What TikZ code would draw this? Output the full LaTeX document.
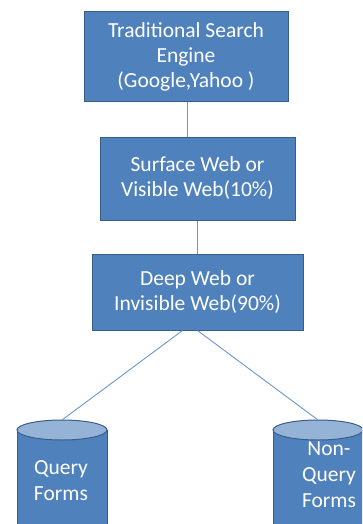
\documentclass[tikz,border=0pt]{standalone}
\usepackage{fontspec}
\setmainfont{Carlito}
\definecolor{boxfill}{HTML}{4F81BD}
\definecolor{boxline}{HTML}{385D8A}
\definecolor{capfill}{HTML}{95B3D7}
\definecolor{linkline}{HTML}{6A96CC}
\begin{document}
\begin{tikzpicture}[x=1pt,y=-1pt,
  box/.style={draw=boxline,fill=boxfill,line width=1pt,text=white,
    align=center,font=\fontsize{21.5}{25}\selectfont,inner sep=0pt},
  label/.style={text=white,align=center,font=\fontsize{21.5}{26}\selectfont,inner sep=0pt},
  link/.style={draw=linkline,line width=0.9pt}]
\useasboundingbox (0,0) rectangle (362,524);
\clip (0,0) rectangle (362,524);

% rectangular boxes
\node[box,minimum width=204pt,minimum height=90pt] (engine) at (186,57)
  {Traditional Search\\Engine\\(Google,Yahoo )};
\node[box,minimum width=195pt,minimum height=83pt] (surface) at (197.5,178.5)
  {Surface Web or\\Visible Web(10\%)};
\node[box,minimum width=211pt,minimum height=76pt] (deep) at (197.5,292)
  {Deep Web or\\Invisible Web(90\%)};

% cylinders (their lower part runs past the picture's edge)
\foreach \cx/\nm in {62/qtop,318/ntop}{
  \fill[boxfill] (\cx-45,430) rectangle (\cx+45,545);
  \draw[boxline,line width=1pt] (\cx-45,430) -- (\cx-45,545) (\cx+45,430) -- (\cx+45,545);
  \draw[boxline,line width=1pt,fill=capfill] (\cx,430) ellipse [x radius=45,y radius=10];
  \coordinate (\nm) at (\cx,420);
}
\node[label] (query) at (61,481) {Query\\Forms};
\node[label] (nonquery) at (329,475) {Non-\\Query\\Forms};

% connectors
\draw[link] (engine.south) ++(1,0) coordinate (e1) -- (e1 |- surface.north);
\draw[link] (surface.south) -- (deep.north);
\draw[link] ([xshift=-15pt]deep.south) -- (qtop);
\draw[link] (deep.south) -- (ntop);
\end{tikzpicture}
\end{document}
